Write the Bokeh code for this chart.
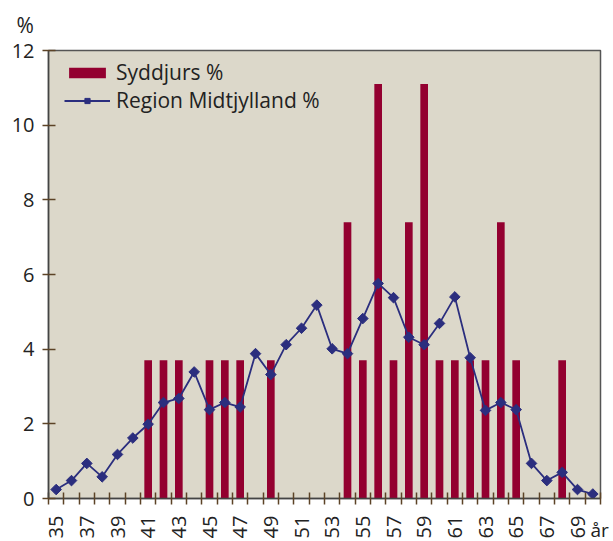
import math
from bokeh.plotting import figure
from bokeh.models import (Range1d, FixedTicker, Legend, LegendItem,
                          ColumnDataSource, Title)
from bokeh.embed import file_html
from bokeh.resources import INLINE

# ---- data ----
ages = list(range(35, 71))
syddjurs = [0, 0, 0, 0, 0, 0, 3.7, 3.7, 3.7, 0, 3.7, 3.7, 3.7, 0, 3.7, 0, 0, 0,
            0, 7.4, 3.7, 11.1, 3.7, 7.4, 11.1, 3.7, 3.7, 3.7, 3.7, 7.4, 3.7, 0,
            0, 3.7, 0, 0]
region = [0.24, 0.48, 0.94, 0.58, 1.18, 1.62, 1.99, 2.57, 2.68, 3.39, 2.38,
          2.57, 2.45, 3.88, 3.32, 4.12, 4.56, 5.18, 4.01, 3.88, 4.82, 5.76,
          5.38, 4.32, 4.12, 4.69, 5.40, 3.77, 2.36, 2.57, 2.38, 0.94, 0.48,
          0.70, 0.24, 0.12]
x_tick_labels = [str(a) for a in range(35, 70, 2)]
y_ticks = [0, 2, 4, 6, 8, 10, 12]
series_names = ["Syddjurs %", "Region Midtjylland %"]

FONT = "Open Sans"
BAR = "#930030"
LINE = "#2B2E7E"
BG = "#DCD8CA"
TICK = "#5C4327"

src = ColumnDataSource(dict(age=ages, syd=syddjurs, reg=region))

p = figure(width=613, height=541, output_backend="svg", toolbar_location=None,
           x_range=Range1d(ages[0] - 0.5, ages[-1] + 0.5),
           y_range=Range1d(0, 12),
           min_border_left=48, min_border_right=13,
           min_border_top=50, min_border_bottom=38)
p.background_fill_color = BG
p.border_fill_color = "white"
p.outline_line_color = "#555555"
p.outline_line_width = 1.5
p.xgrid.visible = False
p.ygrid.visible = False

bars = p.vbar(x="age", top="syd", width=0.5, source=src,
              fill_color=BAR, line_color=None)
ln = p.line(x="age", y="reg", source=src, line_color=LINE, line_width=1.8)
pts = p.scatter(x="age", y="reg", source=src, marker="square", angle=math.pi / 4,
                size=7.5, fill_color=LINE, line_color=LINE)

# x axis
xa = p.xaxis[0]
xa.ticker = FixedTicker(ticks=list(range(35, 70, 2)),
                        minor_ticks=[a - 0.5 for a in ages] + [ages[-1] + 0.5])
xa.major_label_overrides = {int(t): t for t in x_tick_labels}
xa.major_tick_in = 0
xa.major_tick_out = 0
xa.minor_tick_in = 6
xa.minor_tick_out = 6
xa.minor_tick_line_color = TICK
xa.minor_tick_line_width = 1.5
xa.axis_line_color = "#444444"
xa.axis_line_width = 1.5
xa.major_label_orientation = math.pi / 2
xa.major_label_standoff = 11
xa.major_label_text_font = FONT
xa.major_label_text_font_size = "20px"
xa.major_label_text_color = "#222222"

# y axis
ya = p.yaxis[0]
ya.ticker = FixedTicker(ticks=y_ticks, minor_ticks=[])
ya.major_tick_in = 7
ya.major_tick_out = 6
ya.major_tick_line_color = TICK
ya.major_tick_line_width = 1.5
ya.axis_line_color = "#444444"
ya.axis_line_width = 1.5
ya.major_label_standoff = 8
ya.major_label_text_font = FONT
ya.major_label_text_font_size = "20px"
ya.major_label_text_color = "#222222"

# unit labels (titles are drawn outside the frame, so they are not clipped)
p.add_layout(Title(text="%", align="left", offset=-32, standoff=19,
                   vertical_align="top",
                   text_font=FONT, text_font_size="21px",
                   text_font_style="normal", text_color="#222222"), "above")
p.add_layout(Title(text="år", align="left", offset=542, standoff=-50,
                   vertical_align="top",
                   text_font=FONT, text_font_size="19px",
                   text_font_style="normal", text_color="#222222"), "below")

legend = Legend(items=[LegendItem(label=series_names[0], renderers=[bars]),
                       LegendItem(label=series_names[1], renderers=[ln, pts])],
                location=(16, 384), orientation="vertical",
                background_fill_alpha=0, border_line_color=None,
                label_text_font=FONT, label_text_font_size="21px",
                label_text_color="#222222",
                glyph_width=46, glyph_height=13, label_standoff=6,
                spacing=-4, padding=0, margin=0)
p.add_layout(legend)

open("out.html", "w").write(file_html(p, INLINE))
